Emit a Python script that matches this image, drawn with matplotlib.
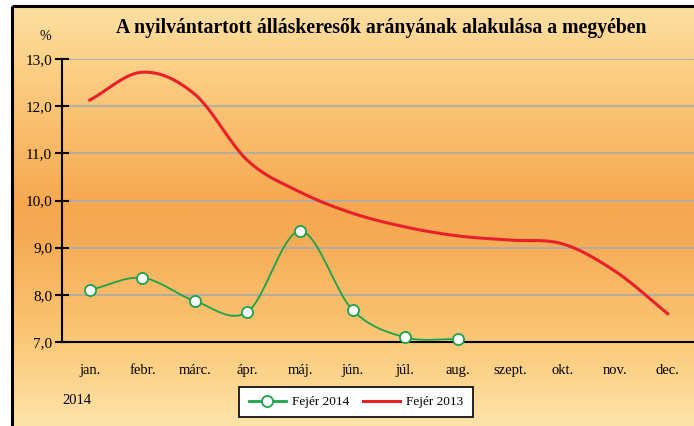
import numpy as np
import matplotlib.pyplot as plt
from matplotlib.lines import Line2D

plt.rcParams['font.family'] = ['Liberation Serif', 'DejaVu Serif']

# adatok
months = ['jan.', 'febr.', 'márc.', 'ápr.', 'máj.', 'jún.', 'júl.', 'aug.',
          'szept.', 'okt.', 'nov.', 'dec.']
fejer_2014 = [8.10, 8.36, 7.87, 7.64, 9.35, 7.68, 7.10, 7.06]
fejer_2013 = [12.13, 12.72, 12.25, 10.85, 10.18, 9.73, 9.44, 9.25, 9.16, 9.08, 8.50, 7.60]
y_ticks = [7, 8, 9, 10, 11, 12, 13]
y_labels = ['7,0', '8,0', '9,0', '10,0', '11,0', '12,0', '13,0']

GREEN = '#1BA34A'
RED = '#E8202A'


def smooth(ys, n=24):
    # Catmull-Rom simitas (Excel-szeru gorbe)
    ys = np.asarray(ys, float)
    xs = np.arange(len(ys), dtype=float)
    p = np.concatenate([[2 * ys[0] - ys[1]], ys, [2 * ys[-1] - ys[-2]]])
    xo, yo = [], []
    for i in range(len(ys) - 1):
        p0, p1, p2, p3 = p[i], p[i + 1], p[i + 2], p[i + 3]
        t = np.linspace(0, 1, n, endpoint=False)
        m1 = (p2 - p0) / 2
        m2 = (p3 - p1) / 2
        h00 = 2 * t**3 - 3 * t**2 + 1
        h10 = t**3 - 2 * t**2 + t
        h01 = -2 * t**3 + 3 * t**2
        h11 = t**3 - t**2
        yo.append(h00 * p1 + h10 * m1 + h01 * p2 + h11 * m2)
        xo.append(xs[i] + t)
    xo.append([xs[-1]])
    yo.append([ys[-1]])
    return np.concatenate(xo), np.concatenate(yo)


W, H = 694, 426
fig = plt.figure(figsize=(W / 100, H / 100), dpi=100)
fig.patch.set_facecolor('white')

# hatter szinatmenet
bg = fig.add_axes([0, 0, 1, 1], zorder=0)
bg.set_xlim(0, W)
bg.set_ylim(H, 0)
bg.axis('off')
stops_y = [6, 60, 200, 230, 330, 426]
stops_c = np.array([[253, 222, 160], [252, 208, 134], [246, 168, 80],
                    [246, 170, 84], [251, 197, 115], [254, 228, 170]]) / 255
yy = np.arange(H)
grad = np.stack([np.interp(yy, stops_y, stops_c[:, k]) for k in range(3)], axis=1)
bg.imshow(grad[:, None, :], extent=[13, W, H, 6], aspect='auto', interpolation='bilinear')
bg.plot([12.5, 12.5], [5.5, H], color='black', lw=2.2, solid_capstyle='butt')
bg.plot([12.5, W], [5.5, 5.5], color='black', lw=2.2, solid_capstyle='butt')

# fo tengely
ax = fig.add_axes([62 / W, 1 - 342 / H, (W - 62) / W, (342 - 59) / H], zorder=1)
ax.patch.set_alpha(0)
ax.set_xlim(-0.53, 11.5)
ax.set_ylim(7, 13)
for s in ['top', 'right']:
    ax.spines[s].set_visible(False)
for s in ['left', 'bottom']:
    ax.spines[s].set_linewidth(1.5)
ax.spines['left'].set_bounds(7, 13)

ax.hlines(y_ticks[1:], -0.43, 11.5, color='#ABABAB', lw=1.3, zorder=1)

ax.set_yticks(y_ticks)
ax.set_yticklabels(y_labels, fontsize=11)
ax.tick_params(axis='y', direction='inout', length=10, width=1.5, pad=2)
ax.set_xticks(range(len(months)))
ax.set_xticklabels(months, fontsize=10.5)
ax.tick_params(axis='x', length=0, pad=16)

x13, y13 = smooth(fejer_2013)
ax.plot(x13, y13, color=RED, lw=2.2, zorder=3, clip_on=False)
x14, y14 = smooth(fejer_2014)
ax.plot(x14, y14, color=GREEN, lw=1.3, zorder=3, clip_on=False)
ax.plot(range(len(fejer_2014)), fejer_2014, 'o', ms=8, mfc='white', mec=GREEN,
        mew=1.3, zorder=4, clip_on=False)

fig.text(381 / W, 1 - 28 / H, 'A nyilvántartott álláskeresők arányának alakulása a megyében',
         fontsize=14.2, fontweight='bold', ha='center', va='center')
fig.text(45 / W, 1 - 36 / H, '%', fontsize=10, ha='center', va='center')
fig.text(77 / W, 1 - 400 / H, '2014', fontsize=10.5, ha='center', va='center')

handles = [Line2D([], [], color=GREEN, lw=2, marker='o', ms=8, mfc='white', mec=GREEN, mew=1.3),
           Line2D([], [], color=RED, lw=2.2)]
leg = fig.legend(handles, ['Fejér 2014', 'Fejér 2013'], loc='center',
                 bbox_to_anchor=(356 / W, 1 - 402 / H), ncol=2, fontsize=9.5,
                 frameon=True, fancybox=False, framealpha=1, edgecolor='black',
                 handlelength=2.8, handletextpad=0.5, columnspacing=1.0, borderpad=0.7)
leg.get_frame().set_linewidth(1.2)

plt.savefig('out.png', dpi=100, facecolor='white')
